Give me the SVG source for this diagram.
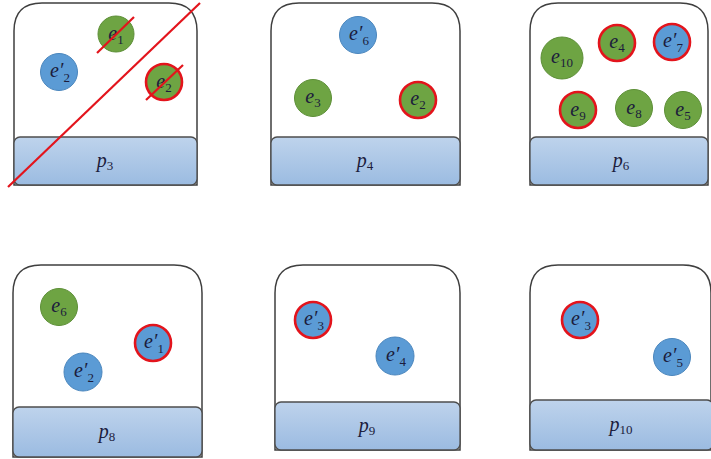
<svg xmlns="http://www.w3.org/2000/svg" width="711" height="459" viewBox="0 0 711 459">
<defs>
<linearGradient id="bg" x1="0" y1="0" x2="0" y2="1">
<stop offset="0" stop-color="#bed3ec"/>
<stop offset="1" stop-color="#9bbbe1"/>
</linearGradient>
</defs>
<style>
.box{fill:#fff;stroke:#3f3f3f;stroke-width:1.5}
.base{fill:url(#bg);stroke:#4d4d4d;stroke-width:1.3}
.g{fill:#6ea443;stroke:#5d8f37;stroke-width:1}
.b{fill:#5b9bd5;stroke:#4a86bd;stroke-width:1}
.rr{stroke:#e3141c;stroke-width:2.6}
.x{stroke:#e3141c;stroke-width:2.2;fill:none}
.lbl{font-family:"Liberation Serif",serif;font-style:italic;font-size:20px;fill:#1c1c3c;text-anchor:middle}
.sub{font-size:13px;font-style:normal}
</style>

<g id="panel-p3">
<path class="box" d="M14 185 V31 Q14 3 42 3 H169 Q197 3 197 31 V185 Z"/>
<rect class="base" x="14" y="137" width="183" height="48" rx="6"/>
<text class="lbl" x="105" y="167">p<tspan class="sub" dy="3">3</tspan></text>
</g>
<g id="node-p3-e1">
<circle class="g" cx="116" cy="34" r="18"/>
<text class="lbl" x="116" y="40">e<tspan class="sub" dy="4">1</tspan></text>
</g>
<g id="node-p3-e2p">
<circle class="b" cx="59" cy="72" r="18.5"/>
<text class="lbl" x="60" y="77">e′<tspan class="sub" dy="5">2</tspan></text>
</g>
<g id="node-p3-e2">
<circle class="g rr" cx="164" cy="82" r="18"/>
<text class="lbl" x="164" y="88">e<tspan class="sub" dy="4">2</tspan></text>
</g>

<g id="panel-p4">
<path class="box" d="M271 185 V31 Q271 3 299 3 H432 Q460 3 460 31 V185 Z"/>
<rect class="base" x="271" y="137" width="189" height="48" rx="6"/>
<text class="lbl" x="365" y="167">p<tspan class="sub" dy="3">4</tspan></text>
</g>
<g id="node-p4-e6p">
<circle class="b" cx="358" cy="35" r="18.5"/>
<text class="lbl" x="359" y="40">e′<tspan class="sub" dy="5">6</tspan></text>
</g>
<g id="node-p4-e3">
<circle class="g" cx="313" cy="98" r="18.5"/>
<text class="lbl" x="313" y="103">e<tspan class="sub" dy="4">3</tspan></text>
</g>
<g id="node-p4-e2">
<circle class="g rr" cx="418" cy="100" r="18"/>
<text class="lbl" x="418" y="105">e<tspan class="sub" dy="4">2</tspan></text>
</g>

<g id="panel-p6">
<path class="box" d="M530 185 V31 Q530 3 558 3 H680 Q708 3 708 31 V185 Z"/>
<rect class="base" x="530" y="137" width="178" height="48" rx="6"/>
<text class="lbl" x="621" y="167">p<tspan class="sub" dy="3">6</tspan></text>
</g>
<g id="node-p6-e10">
<circle class="g" cx="562" cy="58" r="21"/>
<text class="lbl" x="562" y="63">e<tspan class="sub" dy="4">10</tspan></text>
</g>
<g id="node-p6-e4">
<circle class="g rr" cx="617" cy="43" r="18"/>
<text class="lbl" x="617" y="48">e<tspan class="sub" dy="4">4</tspan></text>
</g>
<g id="node-p6-e7p">
<circle class="b rr" cx="672" cy="42" r="18"/>
<text class="lbl" x="673" y="47">e′<tspan class="sub" dy="5">7</tspan></text>
</g>
<g id="node-p6-e9">
<circle class="g rr" cx="578" cy="110" r="18"/>
<text class="lbl" x="578" y="116">e<tspan class="sub" dy="4">9</tspan></text>
</g>
<g id="node-p6-e8">
<circle class="g" cx="634" cy="108" r="18.5"/>
<text class="lbl" x="634" y="114">e<tspan class="sub" dy="4">8</tspan></text>
</g>
<g id="node-p6-e5">
<circle class="g" cx="683" cy="110" r="18.5"/>
<text class="lbl" x="683" y="116">e<tspan class="sub" dy="4">5</tspan></text>
</g>

<g id="panel-p8">
<path class="box" d="M13 457 V293 Q13 265 41 265 H174 Q202 265 202 293 V457 Z"/>
<rect class="base" x="13" y="407" width="189" height="50" rx="6"/>
<text class="lbl" x="107" y="438">p<tspan class="sub" dy="3">8</tspan></text>
</g>
<g id="node-p8-e6">
<circle class="g" cx="59" cy="307" r="18.5"/>
<text class="lbl" x="59" y="312">e<tspan class="sub" dy="4">6</tspan></text>
</g>
<g id="node-p8-e1p">
<circle class="b rr" cx="153" cy="343" r="18"/>
<text class="lbl" x="154" y="348">e′<tspan class="sub" dy="5">1</tspan></text>
</g>
<g id="node-p8-e2p">
<circle class="b" cx="83" cy="372" r="19"/>
<text class="lbl" x="84" y="377">e′<tspan class="sub" dy="5">2</tspan></text>
</g>

<g id="panel-p9">
<path class="box" d="M275 450 V293 Q275 265 303 265 H432 Q460 265 460 293 V450 Z"/>
<rect class="base" x="275" y="402" width="185" height="48" rx="6"/>
<text class="lbl" x="367" y="432">p<tspan class="sub" dy="3">9</tspan></text>
</g>
<g id="node-p9-e3p">
<circle class="b rr" cx="313" cy="320" r="18"/>
<text class="lbl" x="314" y="325">e′<tspan class="sub" dy="5">3</tspan></text>
</g>
<g id="node-p9-e4p">
<circle class="b" cx="395" cy="356" r="19"/>
<text class="lbl" x="396" y="361">e′<tspan class="sub" dy="5">4</tspan></text>
</g>

<g id="panel-p10">
<path class="box" d="M530 450 V293 Q530 265 558 265 H683 Q711 265 711 293 V450 Z"/>
<rect class="base" x="530" y="400" width="183" height="50" rx="6"/>
<text class="lbl" x="621" y="431">p<tspan class="sub" dy="3">10</tspan></text>
</g>
<g id="node-p10-e3p">
<circle class="b rr" cx="580" cy="320" r="18"/>
<text class="lbl" x="581" y="325">e′<tspan class="sub" dy="5">3</tspan></text>
</g>
<g id="node-p10-e5p">
<circle class="b" cx="672" cy="357" r="18.5"/>
<text class="lbl" x="673" y="362">e′<tspan class="sub" dy="5">5</tspan></text>
</g>

<g id="connectors">
<line class="x" x1="8" y1="187" x2="200" y2="3"/>
<line class="x" x1="97" y1="53" x2="134" y2="17"/>
<line class="x" x1="146" y1="100" x2="183" y2="65"/>
</g>
</svg>
